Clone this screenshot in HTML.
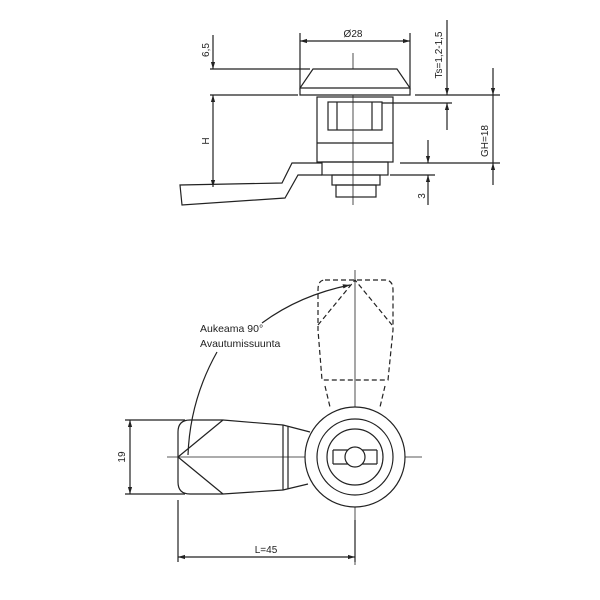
<!DOCTYPE html>
<html><head><style>body{margin:0;background:#fff}svg{display:block}text{font-family:"Liberation Sans",sans-serif;fill:#222}</style></head><body>
<svg width="600" height="600" viewBox="0 0 600 600" xmlns="http://www.w3.org/2000/svg">
<defs><marker id="a" viewBox="0 0 10 10" refX="10" refY="5" markerWidth="6" markerHeight="6" orient="auto-start-reverse"><path d="M0,2 L10,5 L0,8z" fill="#222"/></marker></defs>
<g stroke="#222" stroke-width="1.2" fill="none">
<line x1="353" y1="53" x2="353" y2="205" stroke-width="0.8"/>
<line x1="300" y1="33" x2="300" y2="90"/><line x1="410" y1="33" x2="410" y2="90"/>
<line x1="300" y1="41" x2="410" y2="41" marker-start="url(#a)" marker-end="url(#a)"/>
<path d="M313,69 L397,69 L410,88 L410,95 L300,95 L300,88 Z" fill="#fff"/>
<line x1="300" y1="88" x2="410" y2="88"/>
<line x1="210" y1="69" x2="310" y2="69"/>
<line x1="210" y1="95" x2="298" y2="95"/><line x1="415" y1="95" x2="500" y2="95"/>
<rect x="317" y="97" width="76" height="65"/>
<line x1="317" y1="143" x2="393" y2="143"/>
<rect x="322" y="162" width="66" height="13"/>
<rect x="328" y="102" width="54" height="28"/>
<line x1="337" y1="102" x2="337" y2="130"/><line x1="372" y1="102" x2="372" y2="130"/>
<rect x="332" y="175" width="48" height="10"/>
<rect x="336" y="185" width="40" height="12"/>
<path d="M322,163 L292,163 L282,183 L180,185 L182,205 L285,198 L298,175 L322,175"/>
<line x1="213" y1="35" x2="213" y2="69" marker-end="url(#a)"/>
<line x1="213" y1="95" x2="213" y2="187" marker-start="url(#a)" marker-end="url(#a)"/>
<line x1="382" y1="103" x2="452" y2="103"/>
<line x1="447" y1="20" x2="447" y2="95" marker-end="url(#a)"/>
<line x1="447" y1="103" x2="447" y2="130" marker-start="url(#a)"/>
<line x1="493" y1="68" x2="493" y2="95" marker-end="url(#a)"/>
<line x1="493" y1="163" x2="493" y2="185" marker-start="url(#a)"/>
<line x1="493" y1="95" x2="493" y2="163"/>
<line x1="400" y1="163" x2="500" y2="163"/>
<line x1="390" y1="175" x2="435" y2="175"/>
<line x1="428" y1="140" x2="428" y2="163" marker-end="url(#a)"/>
<line x1="428" y1="175" x2="428" y2="205" marker-start="url(#a)"/>
<line x1="167" y1="457" x2="422" y2="457" stroke-width="0.8"/>
<line x1="355" y1="270" x2="355" y2="565" stroke-width="0.8"/>
<g stroke-dasharray="5,3">
<path d="M325,280 L385,280 Q393,280 393,290 L393,330 L388,380 L322,380 L318,330 L318,290 Q318,280 325,280 Z"/>
<path d="M325,386 L330,407 M385,386 L380,407"/>
<path d="M318,325 L355,280 L392,325"/>
</g>
<circle cx="355" cy="457" r="50" fill="#fff"/>
<circle cx="355" cy="457" r="38"/>
<circle cx="355" cy="457" r="28"/>
<path d="M333,450 L377,450 M333,464 L377,464 M333,450 L333,464 M377,450 L377,464"/>
<circle cx="355" cy="457" r="10" fill="#fff"/>
<path d="M190,420 L223,420 L283,425 L310,432 M190,494 L223,494 L283,490 L308,484 M190,420 Q178,420 178,432 L178,482 Q178,494 190,494"/>
<path d="M178,457 L223,420 M178,457 L223,494"/>
<line x1="283" y1="425" x2="283" y2="490"/><line x1="288" y1="426" x2="288" y2="489"/>
<path d="M262,323 Q300,295 350,285" marker-end="url(#a)"/>
<path d="M217,352 Q190,400 188,455"/>
<line x1="125" y1="420" x2="185" y2="420"/><line x1="125" y1="494" x2="185" y2="494"/>
<line x1="130" y1="420" x2="130" y2="494" marker-start="url(#a)" marker-end="url(#a)"/>
<line x1="178" y1="500" x2="178" y2="562"/><line x1="355" y1="520" x2="355" y2="562"/>
<line x1="178" y1="557" x2="355" y2="557" marker-start="url(#a)" marker-end="url(#a)"/>
</g>
<text x="353" y="37" font-size="10" text-anchor="middle">Ø28</text>
<text transform="translate(209,50) rotate(-90)" font-size="10" text-anchor="middle">6,5</text>
<text transform="translate(209,141) rotate(-90)" font-size="10" text-anchor="middle">H</text>
<text transform="translate(442,55) rotate(-90)" font-size="10" text-anchor="middle">Ts=1,2-1,5</text>
<text transform="translate(488,141) rotate(-90)" font-size="10" text-anchor="middle">GH=18</text>
<text transform="translate(425,196) rotate(-90)" font-size="10" text-anchor="middle">3</text>
<text x="200" y="332" font-size="10.5">Aukeama 90°</text>
<text x="200" y="347" font-size="10.5">Avautumissuunta</text>
<text transform="translate(125,457) rotate(-90)" font-size="10" text-anchor="middle">19</text>
<text x="266" y="553" font-size="10" text-anchor="middle">L=45</text>
</svg>
</body></html>
